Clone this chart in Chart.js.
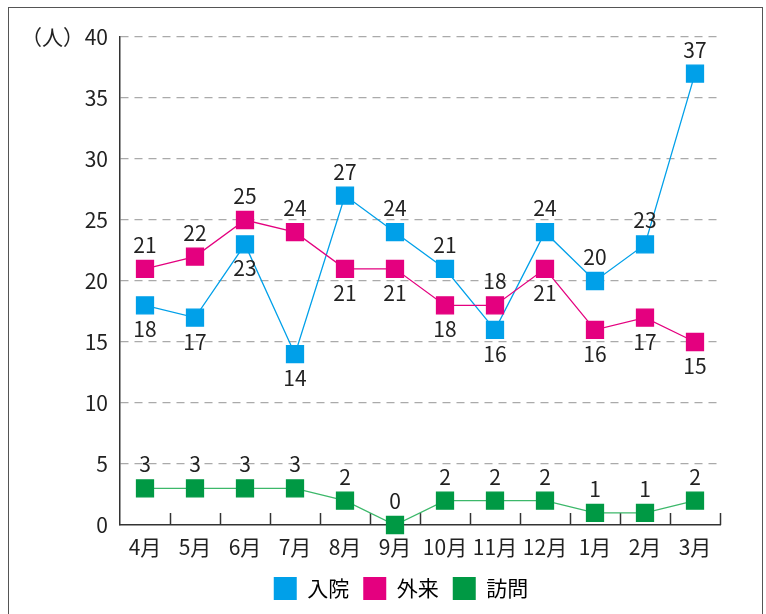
<!DOCTYPE html>
<html lang="ja">
<head>
<meta charset="utf-8">
<script src="https://cdn.jsdelivr.net/npm/chart.js@4.4.1/dist/chart.umd.min.js"></script>
<style>
  html, body { margin: 0; padding: 0; background: #fff; }
  #wrap { position: relative; width: 766px; height: 614px; }
  #frame {
    position: absolute; left: 8px; top: 7px; width: 755px; height: 620px;
    border: 1.5px solid #555; box-sizing: border-box; pointer-events: none;
  }
  canvas { position: absolute; left: 0; top: 0; }
</style>
</head>
<body>
<div id="wrap">
  <canvas id="chart" width="766" height="614"></canvas>
  <div id="frame"></div>
</div>
<script>
const months = ["4月", "5月", "6月", "7月", "8月", "9月", "10月", "11月", "12月", "1月", "2月", "3月"];
const inpatient = [18, 17, 23, 14, 27, 24, 21, 16, 24, 20, 23, 37];
const outpatient = [21, 22, 25, 24, 21, 21, 18, 18, 21, 16, 17, 15];
const homeVisit = [3, 3, 3, 3, 2, 0, 2, 2, 2, 1, 1, 2];
const yTicks = [0, 5, 10, 15, 20, 25, 30, 35, 40];

const FONT = '"Noto Sans CJK JP", "Noto Sans", sans-serif';

// label placement per point: 1 = above, -1 = below
const placeIn = [-1, -1, -1, -1, 1, 1, 1, -1, 1, 1, 1, 1];
const placeOut = [1, 1, 1, 1, -1, -1, -1, 1, -1, -1, -1, -1];
const placeHome = homeVisit.map(() => 1);

const valueLabels = {
    id: "valueLabels",
    afterDatasetsDraw(chart) {
        const ctx = chart.ctx;
        ctx.save();
        ctx.font = "21px " + FONT;
        ctx.fillStyle = "#222";
        ctx.textAlign = "center";
        ctx.textBaseline = "middle";
        chart.data.datasets.forEach((ds, i) => {
            const meta = chart.getDatasetMeta(i);
            meta.data.forEach((pt, j) => {
                const dir = ds.labelPlace[j];
                ctx.fillText(String(ds.data[j]), pt.x, pt.y - dir * 24);
            });
        });
        ctx.restore();
    },
};

const axisExtras = {
    id: "axisExtras",
    beforeDatasetsDraw(chart) {
        const ctx = chart.ctx;
        const y = chart.scales.y;
        const area = chart.chartArea;
        ctx.save();
        ctx.strokeStyle = "#333";
        ctx.lineWidth = 1.5;
        // upward ticks between categories
        const step = (area.right - area.left) / months.length;
        for (let i = 1; i <= months.length; i++) {
            const px = Math.round(area.left + step * i) + 0.5;
            ctx.beginPath();
            ctx.moveTo(px, area.bottom);
            ctx.lineTo(px, area.bottom - 12);
            ctx.stroke();
        }
        // unit label
        ctx.font = "21px " + FONT;
        ctx.fillStyle = "#222";
        ctx.textAlign = "right";
        ctx.textBaseline = "middle";
        ctx.fillText("（人）", 84, y.getPixelForValue(40));
        ctx.restore();
    },
};

new Chart(document.getElementById("chart"), {
    type: "line",
    data: {
        labels: months,
        datasets: [
            {
                label: "入院",
                data: inpatient,
                labelPlace: placeIn,
                borderColor: "#00a0e9",
                backgroundColor: "#00a0e9",
                borderWidth: 1.3,
                pointStyle: "rect",
                pointRadius: 12,
                pointHoverRadius: 12,
                clip: false,
                order: 3,
            },
            {
                label: "外来",
                data: outpatient,
                labelPlace: placeOut,
                borderColor: "#e4007f",
                backgroundColor: "#e4007f",
                borderWidth: 1.3,
                pointStyle: "rect",
                pointRadius: 12,
                pointHoverRadius: 12,
                clip: false,
                order: 2,
            },
            {
                label: "訪問",
                data: homeVisit,
                labelPlace: placeHome,
                borderColor: "#3cb86a",
                backgroundColor: "#009944",
                pointBorderColor: "#009944",
                borderWidth: 1.3,
                pointStyle: "rect",
                pointRadius: 12,
                pointHoverRadius: 12,
                clip: false,
                order: 1,
            },
        ],
    },
    options: {
        responsive: false,
        animation: false,
        layout: { padding: { left: 82, right: 46, top: 37, bottom: 4 } },
        plugins: {
            tooltip: { enabled: false },
            legend: {
                position: "bottom",
                labels: {
                    font: { family: FONT, size: 21 },
                    color: "#222",
                    boxWidth: 23,
                    boxHeight: 23,
                    padding: 14,
                    generateLabels(chart) {
                        return chart.data.datasets.map((ds, i) => ({
                            text: ds.label,
                            fillStyle: ds.backgroundColor,
                            strokeStyle: ds.backgroundColor,
                            lineWidth: 0,
                            datasetIndex: i,
                        }));
                    },
                },
            },
        },
        scales: {
            x: {
                offset: true,
                grid: { display: false, drawTicks: false },
                border: { display: true, color: "#333", width: 1.5 },
                ticks: {
                    font: { family: FONT, size: 21 },
                    color: "#222",
                    padding: 9,
                    maxRotation: 0,
                    autoSkip: false,
                },
                afterFit(scale) { scale.height = 38; },
            },
            y: {
                min: 0,
                max: 40,
                afterBuildTicks(scale) {
                    scale.ticks = yTicks.map((v) => ({ value: v }));
                },
                grid: {
                    color: (c) => (c.tick && c.tick.value === 0 ? "rgba(0,0,0,0)" : "#aaa"),
                    lineWidth: 1.3,
                    drawTicks: false,
                },
                border: { display: true, color: "#333", width: 1.5, dash: [8, 6] },
                ticks: {
                    font: { family: FONT, size: 21 },
                    color: "#222",
                    padding: 12,
                },
                afterFit(scale) { scale.width = 38; },
            },
        },
    },
    plugins: [valueLabels, axisExtras],
});
</script>
</body>
</html>
